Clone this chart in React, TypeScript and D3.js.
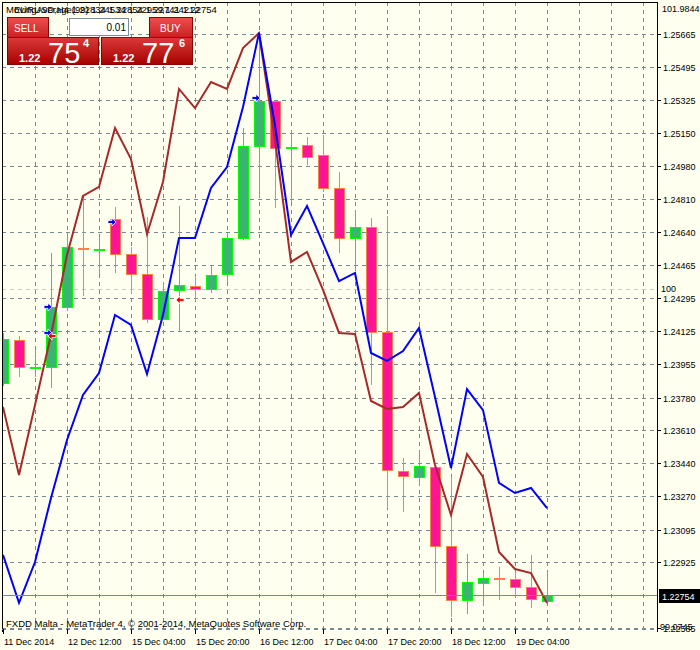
import React from 'react';
import * as d3 from 'd3';

// ---- Data (EURUSD H4) ----
const opens = [1.23855, 1.24078, 1.23938, 1.23938, 1.24250, 1.24555, 1.24550, 1.24706, 1.24524, 1.24421,
  1.24187, 1.24338, 1.24358, 1.24343, 1.24421, 1.24607, 1.25084, 1.25318, 1.25079, 1.25089,
  1.25038, 1.24867, 1.24607, 1.24664, 1.24120, 1.23399, 1.23368, 1.23420, 1.23010, 1.22730,
  1.22818, 1.22844, 1.22839, 1.22798, 1.22725];
const highs = [1.24115, 1.24099, 1.24027, 1.24530, 1.24633, 1.24830, 1.24612, 1.24768, 1.24561, 1.24716,
  1.24379, 1.24773, 1.24410, 1.24467, 1.24633, 1.25178, 1.25670, 1.25318, 1.25167, 1.25131,
  1.25141, 1.24949, 1.24752, 1.24711, 1.24721, 1.23467, 1.23503, 1.23430, 1.23368, 1.22969,
  1.22870, 1.22901, 1.22876, 1.22964, 1.22876];
const lows = [1.23840, 1.23887, 1.23887, 1.23830, 1.24229, 1.24307, 1.24421, 1.24426, 1.24317, 1.24167,
  1.24182, 1.24125, 1.24286, 1.24322, 1.24379, 1.24597, 1.24820, 1.24763, 1.24794, 1.24986,
  1.24846, 1.24530, 1.24436, 1.23845, 1.23207, 1.23187, 1.23321, 1.22767, 1.22642, 1.22658,
  1.22699, 1.22730, 1.22746, 1.22689, 1.22720];
const closes = [1.24084, 1.23938, 1.23939, 1.24250, 1.24561, 1.24554, 1.24551, 1.24524, 1.24421, 1.24187,
  1.24332, 1.24364, 1.24343, 1.24415, 1.24607, 1.25084, 1.25318, 1.25074, 1.25080, 1.25027,
  1.24867, 1.24607, 1.24664, 1.24120, 1.23404, 1.23373, 1.23425, 1.23010, 1.22730, 1.22824,
  1.22844, 1.22843, 1.22798, 1.22736, 1.22754];
const maBrown = [1.23731, 1.23378, 1.23741, 1.24104, 1.24519, 1.24825, 1.24872, 1.25178, 1.25017, 1.24628,
  1.24898, 1.25380, 1.25281, 1.25416, 1.25380, 1.25592, 1.25670, 1.25115, 1.24483, 1.24535,
  1.24338, 1.24115, 1.24110, 1.23762, 1.23721, 1.23731, 1.23804, 1.23430, 1.23171, 1.23487,
  1.23368, 1.22979, 1.22891, 1.22870, 1.22715];
const maBlue = [1.22964, 1.22715, 1.22927, 1.23259, 1.23560, 1.23793, 1.23907, 1.24208, 1.24156, 1.23902,
  1.24208, 1.24607, 1.24607, 1.24867, 1.24975, 1.25287, 1.25670, 1.25193, 1.24623, 1.24773,
  1.24581, 1.24384, 1.24426, 1.24011, 1.23970, 1.24021, 1.24141, 1.23783, 1.23415, 1.23824,
  1.23715, 1.23337, 1.23285, 1.23311, 1.23207];
const priceTicks = ['1.25665', '1.25495', '1.25325', '1.25150', '1.24980', '1.24810', '1.24640', '1.24465',
  '1.24295', '1.24125', '1.23955', '1.23780', '1.23610', '1.23440', '1.23270', '1.23095', '1.22925', '1.22585'];
const gridOnly = ['1.22755'];
const timeLabels = ['11 Dec 2014', '12 Dec 12:00', '15 Dec 04:00', '15 Dec 20:00', '16 Dec 12:00',
  '17 Dec 04:00', '17 Dec 20:00', '18 Dec 12:00', '19 Dec 04:00'];
const timeLabelBars = [0, 4, 8, 12, 16, 20, 24, 28, 32];
const buyArrows = [{ bar: 3, price: 1.24250 }, { bar: 3, price: 1.24115 }, { bar: 7, price: 1.24690 }, { bar: 16, price: 1.25333 }];
const sellArrows = [{ bar: 3, price: 1.24099 }, { bar: 11, price: 1.24286 }];
const currentPrice = 1.22754;
const indexLabels = ['101.9844', '100', '99.0745'];

const FONT = 'Liberation Sans, Arial, sans-serif';

export default function App() {
  const left = 2, top = 2, right = 657, bottom = 629;
  const x = d3.scaleLinear().domain([0, 34]).range([3, 547]);
  const y = d3.scaleLinear().domain([1.22585, 1.25665]).range([628, 34]);
  const line = d3.line<number>().x((_, i) => x(i)).y(d => y(d));
  const vgrid = d3.range(2, 41, 2);
  const gridVals = [...priceTicks, ...gridOnly].map(Number);

  const bullFill = '#3CB371', bullLine = '#00FF00', bearFill = '#FF1493', bearLine = '#FF7F50';

  return (
    <svg width={700} height={650} style={{ position: 'absolute', left: 0, top: 0, background: '#FFFFF0' }}
      fontFamily={FONT}>
      <defs>
        <clipPath id="plot"><rect x={left + 1} y={top} width={right - left - 1} height={bottom - top} /></clipPath>
        <linearGradient id="tabG" x1="0" y1="0" x2="0" y2="1">
          <stop offset="0" stopColor="#EC5050" />
          <stop offset="1" stopColor="#C81E1E" />
        </linearGradient>
        <linearGradient id="panG" x1="0" y1="0" x2="0" y2="1">
          <stop offset="0" stopColor="#DC3A3A" />
          <stop offset="1" stopColor="#A40000" />
        </linearGradient>
      </defs>
      <rect x={0} y={0} width={700} height={650} fill="#FFFFF0" />

      {/* grid */}
      <g stroke="#778899" strokeDasharray="4,4" shapeRendering="crispEdges">
        {gridVals.map((v, i) => (
          <line key={'h' + i} x1={left} x2={right} y1={Math.round(y(v)) + 0.5} y2={Math.round(y(v)) + 0.5} />
        ))}
        {vgrid.map(b => (
          <line key={'v' + b} x1={x(b) + 0.5} x2={x(b) + 0.5} y1={top} y2={bottom} />
        ))}
      </g>
      {/* 100 level of indicator */}
      <line x1={left} x2={right} y1={289.5} y2={289.5} stroke="#C8C8C0" strokeDasharray="4,4" shapeRendering="crispEdges" />

      <g clipPath="url(#plot)">
        {/* candles */}
        {opens.map((o, i) => {
          const c = closes[i];
          const bull = c > o;
          const cx = x(i);
          const yt = y(Math.max(o, c)), yb = y(Math.min(o, c));
          return (
            <g key={'c' + i} shapeRendering="crispEdges">
              <line x1={cx + 0.5} x2={cx + 0.5} y1={y(highs[i])} y2={y(lows[i])} stroke={bull ? bullLine : bearLine} strokeWidth={1} />
              <rect x={cx - 4.5} y={Math.round(yt) + 0.5} width={10} height={Math.max(1, Math.round(yb - yt))}
                fill={bull ? bullFill : bearFill} stroke={bull ? bullLine : bearLine} strokeWidth={1.5} />
            </g>
          );
        })}
        {/* moving averages */}
        <path d={line(maBrown) || ''} fill="none" stroke="#A52A2A" strokeWidth={2} />
        <path d={line(maBlue) || ''} fill="none" stroke="#0000FF" strokeWidth={2} />
        {/* price line */}
        <line x1={left} x2={right} y1={Math.round(y(currentPrice)) + 0.5} y2={Math.round(y(currentPrice)) + 0.5}
          stroke="#778899" strokeWidth={1} shapeRendering="crispEdges" />
        {/* trade arrows */}
        {buyArrows.map((a, i) => {
          const ax = x(a.bar) - 3, ay = y(a.price);
          return (
            <path key={'ba' + i} transform={`translate(${ax},${ay})`}
              d="M-4,-1.5 L0,-1.5 L0,-4 L4,0 L0,4 L0,1.5 L-4,1.5 Z"
              fill="#0000FF" stroke="#FFFFFF" strokeWidth={0.8} />
          );
        })}
        {sellArrows.map((a, i) => {
          const ax = x(a.bar) + 1, ay = y(a.price);
          return (
            <path key={'sa' + i} transform={`translate(${ax},${ay})`}
              d="M4,-1.5 L0,-1.5 L0,-4 L-4,0 L0,4 L0,1.5 L4,1.5 Z"
              fill="#FF0000" stroke="#FFFFFF" strokeWidth={0.8} />
          );
        })}
      </g>

      {/* frame */}
      <g stroke="#000" shapeRendering="crispEdges">
        <line x1={left + 0.5} x2={left + 0.5} y1={top} y2={bottom + 3} />
        <line x1={right + 0.5} x2={right + 0.5} y1={top} y2={bottom + 3} />
        <line x1={left} x2={right + 1} y1={top + 0.5} y2={top + 0.5} />
      </g>
      <line x1={left} x2={right} y1={bottom + 0.5} y2={bottom + 0.5} stroke="#778899" strokeDasharray="4,4" shapeRendering="crispEdges" />

      {/* right axis */}
      <g fontSize={9} fill="#000">
        {priceTicks.map((t, i) => {
          const yy = Math.round(y(Number(t)));
          return (
            <g key={'pt' + i}>
              <line x1={right} x2={right + 4} y1={yy + 0.5} y2={yy + 0.5} stroke="#000" shapeRendering="crispEdges" />
              <text x={663} y={yy + 3.5}>{t}</text>
            </g>
          );
        })}
        <text x={662} y={12}>{indexLabels[0]}</text>
        <text x={661} y={292}>{indexLabels[1]}</text>
        <text x={660} y={630}>{indexLabels[2]}</text>
      </g>
      {/* current price label */}
      <rect x={659} y={589} width={41} height={14} fill="#000" />
      <text x={662} y={599.5} fontSize={9} fill="#FFF">{currentPrice.toFixed(5)}</text>

      {/* time axis */}
      <g fontSize={9} fill="#000">
        {timeLabels.map((t, i) => {
          const xx = x(timeLabelBars[i]);
          return (
            <g key={'tl' + i}>
              <line x1={xx + 0.5} x2={xx + 0.5} y1={bottom} y2={bottom + 5} stroke="#000" shapeRendering="crispEdges" />
              <text x={xx + 1} y={645}>{t}</text>
            </g>
          );
        })}
      </g>

      <text x={6} y={627} fontSize={9.5} fill="#000">FXDD Malta - MetaTrader 4, © 2001-2014, MetaQuotes Software Corp.</text>

      {/* header texts (overlapping) */}
      <g fontSize={9.5} fill="#000">
        <text x={6} y={13}>MovingAverage(99) 1.24534 1.22959 1.24212</text>
        <text x={14} y={13}>EURUSD,H4  1.22834 1.22854 1.22741 1.22754</text>
      </g>

      {/* one-click trading panel */}
      <g>
        <rect x={7.5} y={17.5} width={41} height={21} fill="url(#tabG)" stroke="#8B0000" />
        <rect x={7.5} y={37.5} width={91} height={27} fill="url(#panG)" stroke="#8B0000" />
        <line x1={10} x2={47} y1={37.5} y2={37.5} stroke="#8B1010" />
        <text x={14} y={32} fontSize={10} fill="#FFF">SELL</text>
        <rect x={69.5} y={18.5} width={59} height={17} fill="#FFF" stroke="#7A8CA0" />
        <text x={126} y={31} fontSize={10} fill="#000" textAnchor="end">0.01</text>
        <rect x={149.5} y={17.5} width={43} height={21} fill="url(#tabG)" stroke="#8B0000" />
        <rect x={101.5} y={37.5} width={91} height={27} fill="url(#panG)" stroke="#8B0000" />
        <line x1={103} x2={191} y1={37.5} y2={37.5} stroke="#8B1010" />
        <text x={160} y={32} fontSize={10} fill="#FFF">BUY</text>
        <text x={19} y={62} fontSize={11} fontWeight="bold" fill="#FFF">1.22</text>
        <text x={48} y={63} fontSize={29} fill="#FFF">75</text>
        <text x={83} y={47} fontSize={11} fontWeight="bold" fill="#FFF">4</text>
        <text x={113} y={62} fontSize={11} fontWeight="bold" fill="#FFF">1.22</text>
        <text x={142} y={63} fontSize={29} fill="#FFF">77</text>
        <text x={179} y={47} fontSize={11} fontWeight="bold" fill="#FFF">6</text>
      </g>
    </svg>
  );
}
